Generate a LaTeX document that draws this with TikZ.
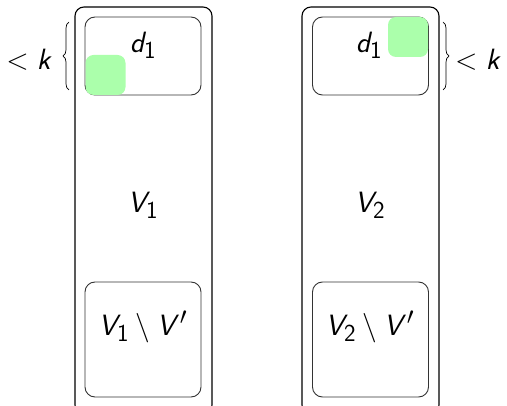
\documentclass[tikz,border=0pt]{standalone}
\usetikzlibrary{decorations.pathreplacing}
% sans-serif slanted letters for the math labels
\DeclareMathAlphabet{\mathsfsl}{OT1}{cmss}{m}{sl}
\newcommand{\sv}[1]{\mathsfsl{#1}}
\begin{document}
\begin{tikzpicture}[x=1pt,y=-1pt,
  outerbox/.style={draw=black,line width=1.1pt,rounded corners=9pt,
    minimum width=137pt,minimum height=407pt,inner sep=0pt},
  innerbox/.style={draw=black!80,line width=0.9pt,rounded corners=10pt,
    minimum width=116pt,inner sep=0pt},
  marker/.style={fill=green!33,rounded corners=8pt,minimum size=40pt,inner sep=0pt},
  lbl/.style={font=\fontsize{24.88}{30}\selectfont,scale=1.18,inner sep=0pt},
  bracestyle/.style={decorate,decoration={brace,amplitude=6pt},line width=0.7pt}]
\useasboundingbox (0,0) rectangle (507,406);
\clip (0,0) rectangle (507,406);
% left column
\node[outerbox] (o1) at (143.5,210.5) {};
\node[innerbox,minimum height=78pt] (t1) at (143,56) {};
\node[innerbox,minimum height=115pt] (b1) at (143,339.5) {};
\node[marker] (g1) at (105.5,75) {};
\node[lbl] (d1a) at (143,45) {$\sv{d}_{\mathsf{1}}$};
\node[lbl] (v1) at (143,205) {$\sv{V}_{\mathsf{1}}$};
\node[lbl] (r1) at (143,327) {$\sv{V}_{\mathsf{1}}\setminus \sv{V}'$};
% right column
\node[outerbox] (o2) at (370.5,210.5) {};
\node[innerbox,minimum height=78pt] (t2) at (370.5,56) {};
\node[innerbox,minimum height=115pt] (b2) at (370.5,339.5) {};
\node[marker] (g2) at (408,37) {};
\node[lbl] (d1b) at (369,45) {$\sv{d}_{\mathsf{1}}$};
\node[lbl] (v2) at (370,205) {$\sv{V}_{\mathsf{2}}$};
\node[lbl] (r2) at (370,327) {$\sv{V}_{\mathsf{2}}\setminus \sv{V}'$};
% size braces
\coordinate (la) at (69,90);
\coordinate (lb) at (69,22);
\coordinate (ra) at (443,22);
\coordinate (rb) at (443,90);
\draw[bracestyle] (la) -- (lb);
\draw[bracestyle] (ra) -- (rb);
\node[lbl,anchor=east] (kl) at (53,60) {$<\sv{k}$};
\node[lbl,anchor=west] (kr) at (455,60) {$<\sv{k}$};
\end{tikzpicture}
\end{document}
